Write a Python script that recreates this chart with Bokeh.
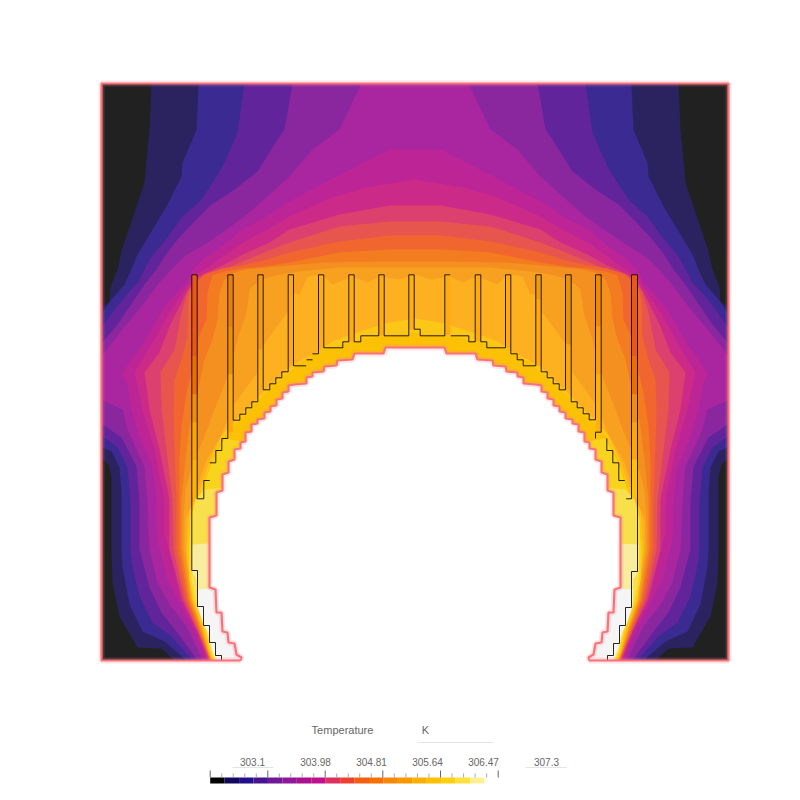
from bokeh.plotting import figure
from bokeh.models import Range1d
from bokeh.embed import file_html
from bokeh.resources import INLINE
from bokeh.core.properties import value

MIRROR = 831.0
DOMAIN_X = [102, 729, 729, 102]
DOMAIN_Y = [84, 84, 661, 661]

band_colors = ["#2a2360", "#3a2a92", "#62249a", "#8a279f", "#aa26a0", "#bd2597", "#cb2a88",
               "#dc406f", "#e7554f", "#f0662e", "#f47c20", "#f39020", "#f8a020", "#fdb120",
               "#fdc718", "#fcc005", "#f9d41e", "#f8df4c", "#f8ec9e", "#f5f5f5"]

iso_01 = [(152,84),(150,130),(149,140),(145,183),(130,228),(123,248),(118,270),(111,287),(110,302),(103,307),
          (103,459),(109,465),(112,477),(112,550),(113,583),(120,617),(138,648),(162,649),(175,661)]
iso_02 = [(199,84),(197,130),(193,140),(183,163),(182,177),(167,207),(150,235),(137,257),(132,270),(125,285),(112,300),(103,313),
          (103,448),(112,452),(120,468),(122,493),(122,550),(123,567),(130,605),(143,632),(165,642),(187,661)]
iso_03 = [(245,84),(238,133),(235,140),(223,167),(217,177),(202,200),(183,217),(168,238),(152,257),(145,270),(138,283),(127,295),(115,310),(103,327),
          (103,437),(118,448),(128,468),(131,503),(131,550),(133,567),(140,597),(153,623),(172,637),(193,661)]
iso_04 = [(293,84),(285,130),(278,140),(258,172),(235,190),(212,205),(195,222),(178,240),(165,257),(157,270),(145,285),(133,303),(118,325),(103,343),
          (103,425),(122,438),(137,467),(140,503),(140,550),(142,557),(150,588),(162,613),(177,632),(198,661)]
iso_05 = [(362,84),(340,130),(313,150),(290,177),(268,197),(245,217),(227,230),(208,243),(185,257),(172,270),(160,283),(142,307),(123,330),(103,355),
          (103,401),(123,410),(128,430),(145,467),(148,503),(150,550),(158,583),(170,605),(187,627),(198,650),(203,661)]
iso_06 = [(415.5,150),(390,150),(335,178),(290,202),(267,217),(243,230),(222,247),(203,260),(192,272),(187,283),(165,307),(143,345),(123,373),
          (128,387),(132,410),(140,437),(153,467),(157,500),(158,540),(168,580),(178,600),(196,633),(202,650),(206,661)]
iso_07 = [(415.5,180),(367,188),(333,198),(290,217),(268,230),(243,243),(223,257),(207,269),(193,277),(189,285),(172,310),(152,345),(135,373),
          (140,395),(143,410),(155,450),(165,500),(165,533),(175,573),(181,600),(198,633),(204,650),(208,661)]
iso_08 = [(415.5,206),(390,206),(340,215),(290,230),(270,243),(243,255),(225,265),(207,273),(195,279),(187,293),(170,327),(160,353),(145,373),
          (150,410),(160,450),(170,500),(170,550),(183,600),(198.5,633),(205,650),(209,661)]
iso_09 = [(415.5,222),(390,222),(340,227),(290,243),(267,252),(243,262),(230,268),(213,272),(197,280),(188,293),(182,313),(175,350),(161,373),
          (162,410),(167,450),(173,500),(174,550),(185,600),(199,633),(206,650),(210,661)]
iso_10 = [(415.5,236),(390,236),(340,242),(290,253),(268,260),(243,266),(235,267),(223,269),(205,275),(192,288),(189,300),(188,337),(182,360),(175,380),
          (174,410),(175,450),(177,500),(177,550),(187,600),(200,633),(206.5,650),(210.5,661)]
iso_11 = [(415.5,250),(390,250),(340,253),(290,263),(265,267),(243,269),(225,272),(213,276),(208,293),(207,320),(198,340),(192,373),
          (187,393),(182,427),(180,460),(180,500),(180,550),(188.5,600),(201,633),(207,650),(211,661)]
iso_12 = [(415.5,262),(390,262),(323,263),(290,266),(267,268),(247,270),(235,273),(225,280),(220,293),(218,320),(213,340),(205,360),
          (198,393),(190,427),(186,460),(182,500),(182,550),(190,600),(202,633),(207.5,650),(211.5,661)]
iso_13 = [(415.5,268),(340,268),(300,272),(280,275),(265,279),(255,285),(250,290),(247,313),(238,340),(233,360),(225,385),(215,410),(205,437),
          (197,455),(190,475),(186,490),(184,520),(184,550),(191,600),(203,633),(208,650),(212,661)]
iso_14 = [(415.5,275),(400,280),(380,277),(368,283),(353,277),(333,285),(323,275),(308,277),(300,295),(292,293),(290,310),(263,347),(258,373),
          (233,407),(223,433),(206,463),(198,487),(192,505),(186,520),(186,550),(192,600),(204,633),(208.5,650),(212.5,661)]
iso_15 = [(415.5,319),(390,323),(357,333),(333,342),(317,353),(303,360),(290,368),(263,393),(250,407),(233,423),(222,436),(210,462),(204,480),
          (197,498),(190,512),(187,550),(193,600),(204.5,633),(209,650),(213,661)]
iso_16 = [(415.5,333),(380,337),(355,342),(323,350),(303,362),(290,372),(263,397),(250,411),(235,426),(224,438),(211,463),(205,481),
          (198,499),(191,513),(188,550),(193.5,600),(205,633),(209.5,650),(213.5,661)]
iso_17 = [(415.5,500),(260,445),(225,439),(212,464),(206,482),(199,500),(192,514),(189,550),(190,580),(194,600),(206,633),(210,650),(214,661)]
iso_18 = [(415.5,520),(230,488),(205,490),(196,500),(191,520),(191,550),(192,580),(196,600),(207,633),(211,650),(215,661)]
iso_19 = [(415.5,560),(230,543),(192,545),(192,571),(197,580),(197.5,600),(208,633),(212,650),(216,661)]
iso_20 = [(415.5,600),(230,588),(198,590),(198,607),(204,625),(209,633),(213,650),(218,661)]
isotherms = [iso_01, iso_02, iso_03, iso_04, iso_05, iso_06, iso_07, iso_08, iso_09, iso_10,
             iso_11, iso_12, iso_13, iso_14, iso_15, iso_16, iso_17, iso_18, iso_19, iso_20]

hole_left = [(241,661),(242,658),(237,655),(235,644),(229,643),(228,633),(223,632),(222,613),(217,613),(216,590),(210,588),(210,518),(217,516),
             (217,493),(223,491),(223,475),(229,473),(229,462),(235,460),(235,450),(241,449),(241,443),(246,442),(246,433),(252,432),
             (252,425),(258,424),(258,420),(265,419),(265,413),(271,412),(271,407),(277,406),(277,400),(283,399),(283,393),(289,392),
             (289,386),(295,385),(307,384),(307,378),(313,377),(313,373),(324,372),(325,367),
             (337,366),(338,361),(353,360),(355,354),(384,354),(386,348),(415.5,348)]

fin_left = [192.3, 228.3, 258.3, 288.7, 319.0, 349.3, 379.3, 409.3, 445.3, 475.7, 506.0, 536.3, 566.0, 596.0, 632.0]
fin_width = [5.4, 5.4, 5.4, 5.4, 5.4, 5.4, 5.4, 5.4, 5.4, 5.6, 5.4, 5.4, 5.6, 5.6, 6.0]
fin_top = 275
fin_seg_fin = [0, 0, 0, 0, 0, 1, 1, 1, 2, 2, 3, 4, 5, 6, 7, 8, 9, 10, 11, 11, 12, 12, 13, 13, 13, 14, 14, 14, 14, 14]
fin_seg_end = [357, 395, 423, 460, 499, 328, 375, 433, 350, 390, 366, 348, 342, 336, 330, 336, 342, 348, 300, 366, 345, 390, 327, 375, 433, 357, 395, 423, 460, 499]
fin_seg_col = ["#e9571a", "#ec6d05", "#f08c10", "#fba50a", "#feb30a", "#e8800f", "#ef8f05", "#ffa90f", "#f49a12", "#fdae15",
               "#ffa912", "#ffae10", "#ffae10", "#ffae10", "#fdb010", "#ffac10", "#ffa90e", "#ffaa10", "#f09a15", "#ffa612",
               "#e8920f", "#fba510", "#f08a05", "#fa9b10", "#ffb010", "#e9571a", "#ec6d05", "#f08c10", "#fba50a", "#ffc005"]

N = float("nan")
outline = [(222,661),(222,656),(216,656),(216,643),(210,643),(210,626),(204,626),(204,607),(198,607),(198,571),(192.3,571),(192.3,275.3),
           (197.7,275.3),(197.7,499.3),(204.3,499.3),(204.3,481),(210.3,481),(N,N),(210.3,463.3),(216.3,463.3),(216.3,451),(222.3,451),(222.3,439),
           (228.3,439),(228.3,275.3),(233.7,275.3),(233.7,420.7),(240.3,420.7),(240.3,414.7),(246.3,414.7),(246.3,408.3),(252.3,408.3),(252.3,402.3),
           (258.3,402.3),(258.3,275.3),(263.7,275.3),(263.7,390.3),(270.3,390.3),(270.3,384.3),(276.3,384.3),(276.3,378.3),(282.3,378.3),(282.3,372.3),
           (288.7,372.3),(288.7,275.3),(294,275.3),(294,366.3),(306.7,366.3),(N,N),(307,360.3),(313,360.3),(N,N),(313,354.3),(319,354.3),(319,275.3),
           (324.3,275.3),(324.3,348.3),(343.3,348.3),(343.3,342.3),(349.3,342.3),(349.3,275.3),(354.7,275.3),(354.7,342.3),(361.3,342.3),(361.3,336.3),
           (379.3,336.3),(379.3,275.3),(384.7,275.3),(384.7,336.3),(409.3,336.3),(409.3,275.3),(414.7,275.3),(414.7,329.7),(420.7,329.7),(420.7,336.3),
           (445.3,336.3),(445.3,275.3),(450.7,275.3),(N,N),(451.3,336.3),(469.3,336.3),(469.3,342.3),(475.7,342.3),(475.7,275.3),(481.3,275.3),(481.3,342.3),
           (487.3,342.3),(487.3,348.3),(506,348.3),(506,275.3),(511.3,275.3),(511.3,354.3),(517.7,354.3),(517.7,360.3),(523.7,360.3),(523.7,366.3),
           (536.3,366.3),(536.3,275.3),(541.7,275.3),(541.7,372.3),(547.7,372.3),(547.7,378.3),(553.7,378.3),(553.7,384.3),(559.7,384.3),(559.7,390.3),
           (566,390.3),(566,275.3),(571.7,275.3),(571.7,402.3),(577.7,402.3),(577.7,408.3),(583.7,408.3),(583.7,414.3),(589.7,414.3),(589.7,420.3),
           (596,420.3),(596,275.3),(601.7,275.3),(601.7,432.7),(596,432.7),(596,439),(N,N),(607.3,439),(607.3,451),(613.3,451),(613.3,463.3),(619.3,463.3),
           (619.3,481),(625.3,481),(N,N),(626.7,499.3),(632,499.3),(632,275.3),(638,275.3),(638,572),(632,572),(632,608),(626,608),(626,626),(620,626),
           (620,644),(614,644),(614,656),(608,656),(608,661)]

legend_bar_colors = ["#000000", "#14085e", "#20108a", "#4a1490", "#701898", "#90189a", "#aa1090", "#c01090", "#dc3060", "#ec4030",
                     "#f06010", "#f87000", "#f88808", "#fa9800", "#fcb000", "#ffc000", "#ffd010", "#fee040", "#fef090"]
legend_labels = ["303.1", "303.98", "304.81", "305.64", "306.47", "307.3"]
legend_label_x = [253, 316, 372, 428, 484, 547]
legend_tick_x = [210.7, 268.3, 325.7, 383.3, 441.0, 498.7]


def full(path):
    xs = [a for a, b in path] + [MIRROR - a for a, b in reversed(path)]
    ys = [b for a, b in path] + [b for a, b in reversed(path)]
    return xs, ys


p = figure(width=784, height=784, output_backend="svg", toolbar_location=None,
           x_range=Range1d(1, 785), y_range=Range1d(785, 1), min_border=0,
           x_axis_location=None, y_axis_location=None)
p.grid.visible = False
p.outline_line_color = None
p.background_fill_color = "white"
p.border_fill_color = "white"

p.patch(DOMAIN_X, DOMAIN_Y, fill_color="#212121", line_color=None)
for path, col in zip(isotherms, band_colors):
    xs, ys = full(path)
    p.patch(xs, ys, fill_color=col, line_color=None)

# fins: coloured sections
seg_left, seg_right, seg_top, seg_bot = [], [], [], []
prev = {}
for f, e in zip(fin_seg_fin, fin_seg_end):
    seg_left.append(fin_left[f])
    seg_right.append(fin_left[f] + fin_width[f])
    seg_top.append(prev.get(f, fin_top))
    seg_bot.append(e)
    prev[f] = e
p.quad(left=seg_left, right=seg_right, top=seg_top, bottom=seg_bot, fill_color=fin_seg_col, line_color=None)

# hole: white, open at the bottom
hx, hy = full(hole_left)
p.patch(hx, hy, fill_color="white", line_color=None)
p.quad(left=[hole_left[0][0]], right=[MIRROR - hole_left[0][0]], top=[655], bottom=[672], fill_color="white", line_color=None)

# fin outlines
p.line([a for a, b in outline], [b for a, b in outline], line_color="#000000", line_width=1, line_alpha=0.85)

# pink outline of the domain and the hole
bx = [hole_left[0][0], 102, 102, 729, 729, MIRROR - hole_left[0][0]]
by = [661, 661, 84, 84, 661, 661]
path_x = bx + hx[::-1]
path_y = by + hy[::-1]
p.line(path_x, path_y, line_color="#f8868c", line_width=6, line_alpha=0.22)
p.line(path_x, path_y, line_color="#f8727a", line_width=2.2)

# legend
n = len(legend_bar_colors)
w = (485 - 210.7) / n
p.quad(left=[210.7 + i * w for i in range(n)], right=[210.7 + (i + 1) * w for i in range(n)],
       top=[778] * n, bottom=[784] * n, fill_color=legend_bar_colors, line_color=None)
p.segment(x0=legend_tick_x, x1=legend_tick_x, y0=[771] * 6, y1=[778] * 6, line_color="#666666", line_width=1)
mx = [legend_tick_x[i] + (legend_tick_x[i + 1] - legend_tick_x[i]) * j / 5 for i in range(5) for j in range(1, 5)]
p.segment(x0=mx, x1=mx, y0=[774] * len(mx), y1=[778] * len(mx), line_color="#aaaaaa", line_width=1)
p.text(x=legend_label_x, y=[762] * 6, text=legend_labels, text_font=value("Liberation Sans"), text_font_size="10px",
       text_color="#666666", text_align="center", text_baseline="middle")
p.text(x=[343, 426], y=[730, 730], text=["Temperature", "K"], text_font=value("Liberation Sans"), text_font_size="11px",
       text_color="#666666", text_align="center", text_baseline="middle")
p.segment(x0=[418, 233, 526], x1=[494, 274, 567], y0=[743, 768, 768], y1=[743, 768, 768], line_color="#e4e4e4", line_width=1)

open("out.html", "w").write(file_html(p, INLINE))
